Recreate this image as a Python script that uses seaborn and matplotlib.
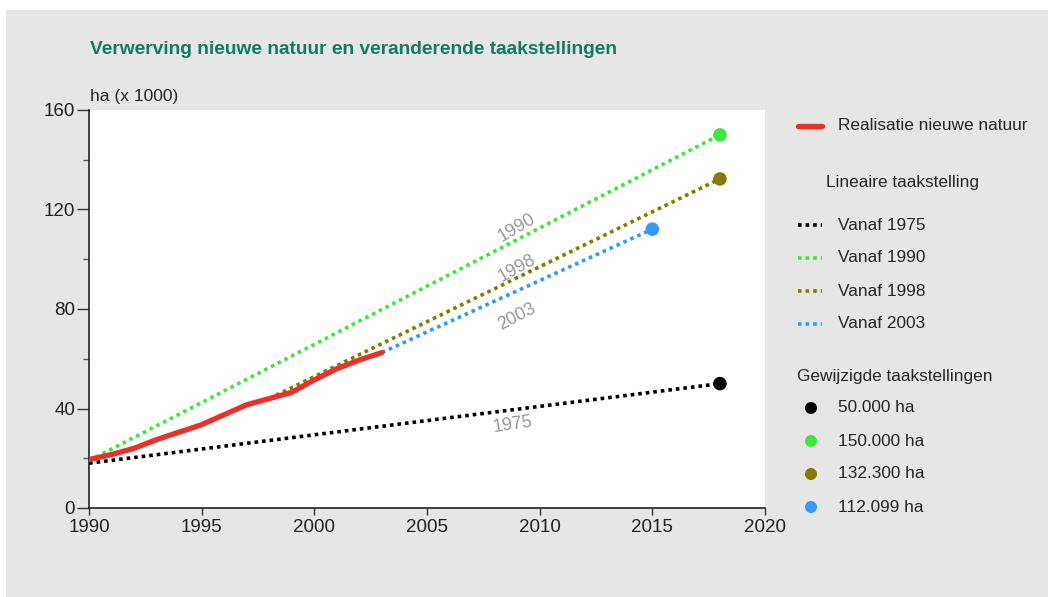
import numpy as np
import matplotlib.pyplot as plt
import seaborn as sns
import pandas as pd
from matplotlib.patches import Rectangle

# realised new nature (ha x 1000)
real_years = [1990, 1991, 1992, 1993, 1994, 1995, 1996, 1997, 1998, 1999, 2000, 2001, 2002, 2003]
real_vals = [19.5, 21.5, 24.0, 27.5, 30.5, 33.5, 37.5, 41.5, 44.0, 46.5, 51.5, 56.0, 59.5, 62.5]

# linear targets: start / end
target_names = ["1975", "1990", "1998", "2003"]
target_x0 = [1990, 1990, 1998, 2003]
target_y0 = [18.0, 19.0, 44.0, 62.5]
target_x1 = [2018, 2018, 2018, 2015]
target_y1 = [50.0, 150.0, 132.3, 112.099]
target_colors = ["#000000", "#3de83d", "#877a00", "#3399ff"]
point_labels = ["50.000 ha", "150.000 ha", "132.300 ha", "112.099 ha"]

RED = "#ec3027"
TITLE_COL = "#157a62"
BG = "#e6e6e6"

sns.set_style("ticks")
plt.rcParams['font.family'] = ['Liberation Sans', 'DejaVu Sans']

fig = plt.figure(figsize=(10.48, 5.97), dpi=100, facecolor="white")
fig.patches.append(Rectangle((6 / 1048, 0), 1, 1 - 10 / 597, transform=fig.transFigure,
                             facecolor=BG, edgecolor="none", zorder=-10))

W, H = 1048, 597
ax = fig.add_axes([89 / W, 1 - 508 / H, (765 - 89) / W, (508 - 110) / H])
ax.set_facecolor("white")

rows = []
for n, x0, y0, x1, y1 in zip(target_names, target_x0, target_y0, target_x1, target_y1):
    rows.append({"naam": n, "jaar": x0, "ha": y0})
    rows.append({"naam": n, "jaar": x1, "ha": y1})
df_t = pd.DataFrame(rows)
pal = dict(zip(target_names, target_colors))

sns.lineplot(data=df_t, x="jaar", y="ha", hue="naam", palette=pal, ax=ax,
             linewidth=2.6, linestyle=(0, (1, 1.1)), legend=False, zorder=2)

df_r = pd.DataFrame({"jaar": real_years, "ha": real_vals})
sns.lineplot(data=df_r, x="jaar", y="ha", color=RED, linewidth=3.8, ax=ax,
             legend=False, zorder=3, solid_capstyle="round")

df_p = pd.DataFrame({"naam": target_names, "jaar": target_x1, "ha": target_y1})
sns.scatterplot(data=df_p, x="jaar", y="ha", hue="naam", palette=pal, s=95,
                edgecolor="none", ax=ax, legend=False, zorder=4, clip_on=False)

# rotated labels on the lines
lab_pos = {"1990": (2009.0, 112.5), "1998": (2009.0, 96.5), "2003": (2009.0, 77.0), "1975": (2008.8, 33.5)}
for n, x0, y0, x1, y1 in zip(target_names, target_x0, target_y0, target_x1, target_y1):
    p0 = ax.transData.transform((x0, y0))
    p1 = ax.transData.transform((x1, y1))
    ang = np.degrees(np.arctan2(p1[1] - p0[1], p1[0] - p0[0]))
    lx, ly = lab_pos[n]
    ax.text(lx, ly, n, rotation=ang, rotation_mode="anchor", ha="center", va="center",
            color="#999999", fontsize=13)

ax.set_xlim(1990, 2020)
ax.set_ylim(0, 160)
ax.set_xticks(range(1990, 2021, 5))
ax.set_yticks([0, 40, 80, 120, 160])
ax.set_yticks([20, 60, 100, 140], minor=True)
ax.set_xlabel("")
ax.set_ylabel("")
ax.tick_params(axis="both", labelsize=13.5, width=1, color="#333333", labelcolor="#222222")
ax.tick_params(axis="x", length=5, pad=3)
ax.tick_params(axis="y", length=9, pad=1)
ax.tick_params(axis="y", which="minor", length=4, width=1, color="#555555")
for s in ["top", "right"]:
    ax.spines[s].set_visible(False)
for s in ["left", "bottom"]:
    ax.spines[s].set_linewidth(1.2)
    ax.spines[s].set_color("#222222")

fig.text(90 / W, 1 - 50 / H, "Verwerving nieuwe natuur en veranderende taakstellingen",
         color=TITLE_COL, fontsize=13.8, fontweight="bold", va="center", ha="left")
fig.text(90 / W, 1 - 97 / H, "ha (x 1000)", fontsize=12.5, va="center", ha="left")

# legend drawn in its own axes (pixel coordinates)
FS = 12.4
lg = fig.add_axes([0, 0, 1, 1], facecolor="none")
lg.set_xlim(0, W)
lg.set_ylim(H, 0)
lg.axis("off")
lg.plot([798, 822], [126, 126], color=RED, linewidth=3.8)
lg.text(838, 126, "Realisatie nieuwe natuur", fontsize=FS, va="center")
lg.text(826, 182, "Lineaire taakstelling", fontsize=FS, va="center")
for i, (n, c) in enumerate(zip(target_names, target_colors)):
    y = 225 + i * 33
    lg.plot([798, 822], [y, y], color=c, linewidth=2.6, linestyle=(0, (1, 1.1)))
    lg.text(838, y, "Vanaf " + n, fontsize=FS, va="center")
lg.text(797, 376, "Gewijzigde taakstellingen", fontsize=FS, va="center")
for i, (lab, c) in enumerate(zip(point_labels, target_colors)):
    y = 408 + i * 33
    lg.scatter([811], [y], color=c, s=75, edgecolor="none")
    lg.text(838, y, lab, fontsize=FS, va="center")

fig.savefig("out.png", dpi=100, facecolor=fig.get_facecolor())
